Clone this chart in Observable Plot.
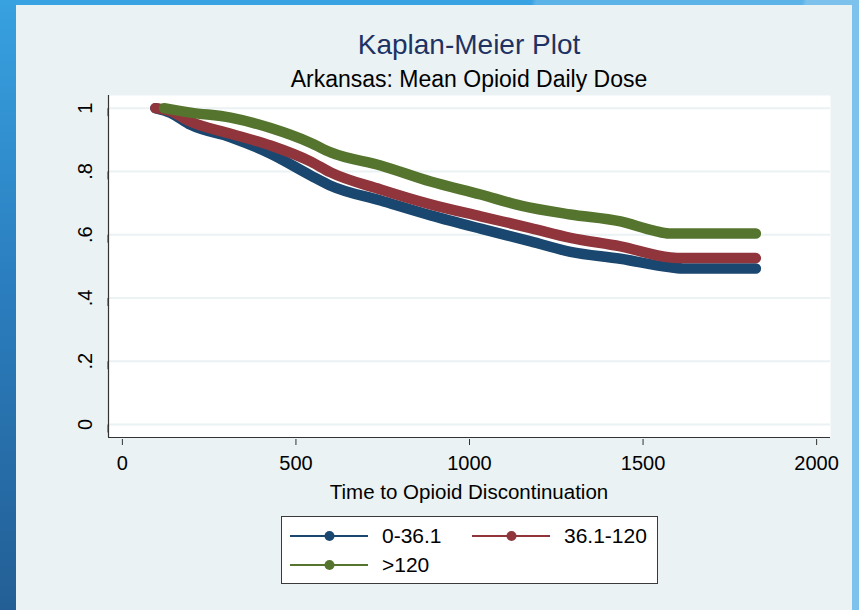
<!DOCTYPE html>
<html>
<head>
<meta charset="utf-8">
<script src="https://cdn.jsdelivr.net/npm/d3@7"></script>
<script src="https://cdn.jsdelivr.net/npm/@observablehq/plot@0.6"></script>
<style>
  html, body { margin: 0; padding: 0; }
  body { width: 859px; height: 610px; overflow: hidden; font-family: Arial, "Liberation Sans", sans-serif; }
  #page { position: relative; width: 859px; height: 610px;
    background: linear-gradient(100deg, #39a2e2 0%, #39a2e2 55%, #5cb3e8 55.5%, #5cb3e8 83%, #7dc2ec 83.5%, #7dc2ec 100%); }
  #leftstrip { position: absolute; left: 0; top: 0; width: 16px; height: 610px;
    background: linear-gradient(to bottom, #38a1e0 0%, #2b7fc0 45%, #235f95 100%); }
  #panel { position: absolute; left: 16px; top: 5px; width: 836px; height: 605px; background: #eaf2f3; }
  .t { position: absolute; white-space: nowrap; color: #000; }
  #title { left: 0; width: 938px; text-align: center; top: 29px; font-size: 28px; color: #1e3263; }
  #subtitle { left: 0; width: 938px; text-align: center; top: 66px; font-size: 23px; }
  #xtitle { left: 0; width: 938px; text-align: center; top: 480px; font-size: 20.5px; }
  #chart { position: absolute; left: 16px; top: 90px; }
  #legend { position: absolute; left: 281px; top: 516px; width: 375px; height: 66px; background: #fff; border: 1px solid #3a3a3a; }
  .entry { position: absolute; height: 20px; }
  .entry svg { position: absolute; left: 0; top: 0; }
  .entry span { position: absolute; left: 92px; top: -3px; font-size: 21px; white-space: nowrap; }
</style>
</head>
<body>
<div id="page">
  <div id="leftstrip"></div>
  <div id="panel"></div>
  <div class="t" id="title">Kaplan-Meier Plot</div>
  <div class="t" id="subtitle">Arkansas: Mean Opioid Daily Dose</div>
  <div id="chart"></div>
  <div class="t" id="xtitle">Time to Opioid Discontinuation</div>
  <div id="legend"></div>
</div>
<script>
// ---- data ----
const groups = ["0-36.1", "36.1-120", ">120"];
const groupColors = ["#1a476f", "#90353b", "#55752f"];

const timeLow = [95, 139, 197, 312, 427, 543, 600, 744, 888, 1032, 1176, 1291, 1435, 1579, 1620, 1825];
const survLow = [1.0, 0.985, 0.947, 0.908, 0.856, 0.787, 0.755, 0.708, 0.661, 0.619, 0.579, 0.546, 0.524, 0.497, 0.493, 0.493];

const timeMid = [95, 139, 197, 312, 427, 543, 600, 744, 888, 1032, 1176, 1291, 1435, 1579, 1610, 1825];
const survMid = [1.0, 0.99, 0.957, 0.919, 0.882, 0.831, 0.797, 0.743, 0.696, 0.658, 0.621, 0.590, 0.563, 0.528, 0.526, 0.526];

const timeHigh = [120, 197, 312, 427, 543, 600, 744, 888, 1032, 1148, 1291, 1435, 1531, 1575, 1825];
const survHigh = [1.0, 0.986, 0.970, 0.937, 0.890, 0.860, 0.819, 0.768, 0.727, 0.692, 0.664, 0.642, 0.613, 0.604, 0.604];

const xTicks = [0, 500, 1000, 1500, 2000];
const yTicks = [0, 0.2, 0.4, 0.6, 0.8, 1];
const yTickLabels = ["0", ".2", ".4", ".6", ".8", "1"];

const xDomain = [-40, 2040];
const yDomain = [-0.041, 1.040];

// ---- build table ----
const series = [
  {group: groups[0], t: timeLow, s: survLow},
  {group: groups[1], t: timeMid, s: survMid},
  {group: groups[2], t: timeHigh, s: survHigh}
];
const rows = series.flatMap(d => d.t.map((t, i) => ({group: d.group, time: t, surv: d.s[i]})));

const chart = Plot.plot({
  width: 836,
  height: 388,
  marginLeft: 92,
  marginRight: 22,
  marginTop: 5,
  marginBottom: 41,
  style: {background: "transparent", fontFamily: "Arial, 'Liberation Sans', sans-serif", color: "#000"},
  x: {domain: xDomain},
  y: {domain: yDomain},
  color: {domain: groups, range: groupColors},
  marks: [
    Plot.frame({fill: "#fff", stroke: null}),
    Plot.gridY(yTicks, {stroke: "#eaf2f3", strokeOpacity: 1, strokeWidth: 2}),
    Plot.ruleX([xDomain[0]], {stroke: "#333", strokeWidth: 1.2}),
    Plot.ruleY([yDomain[0]], {stroke: "#333", strokeWidth: 1.2}),
    Plot.line(rows, {x: "time", y: "surv", z: "group", stroke: "group", strokeWidth: 10.5,
      curve: "monotone-x", strokeLinecap: "round", strokeLinejoin: "round"}),
    Plot.axisY({ticks: yTicks, tickFormat: d => yTickLabels[yTicks.indexOf(d)], tickSize: 8, tickPadding: 15,
      rotate: -90, textAnchor: "middle", fontSize: 20, label: null, stroke: "#333"}),
    Plot.axisX({ticks: xTicks, tickFormat: d => String(d), tickSize: 6, tickPadding: 10, dy: 2, fontSize: 20, label: null, stroke: "#333"})
  ]
});
document.getElementById("chart").appendChild(chart);

// ---- legend ----
const legend = document.getElementById("legend");
const entryPos = [[8, 10], [190, 10], [8, 39]];
groups.forEach((g, i) => {
  const e = document.createElement("div");
  e.className = "entry";
  e.style.left = entryPos[i][0] + "px";
  e.style.top = entryPos[i][1] + "px";
  e.innerHTML = `<svg width="82" height="20"><line x1="0" y1="9" x2="78" y2="9" stroke="${groupColors[i]}" stroke-width="2"/><circle cx="39.5" cy="9" r="5" fill="${groupColors[i]}"/></svg><span>${g.replace(">", "&gt;")}</span>`;
  legend.appendChild(e);
});
</script>
</body>
</html>
